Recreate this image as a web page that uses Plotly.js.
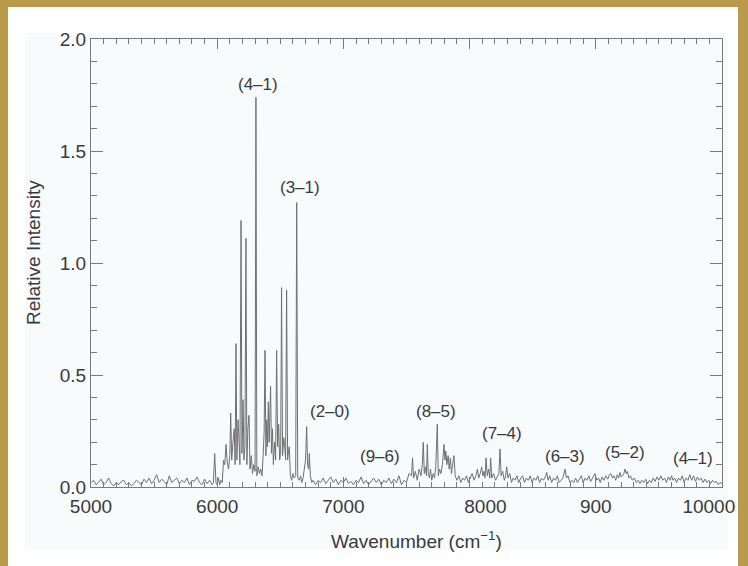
<!DOCTYPE html>
<html>
<head>
<meta charset="utf-8">
<script src="https://cdn.plot.ly/plotly-3.0.1.min.js"></script>
<style>
  html, body { margin: 0; padding: 0; }
  body { width: 748px; height: 566px; background: #b99a4b; position: relative; overflow: hidden; }
  #white { position: absolute; left: 8px; top: 7px; width: 730px; height: 559px; background: #ffffff; }
  #light { position: absolute; left: 25px; top: 33px; width: 703px; height: 517px; background: #f8fbfc; }
  #chart { position: absolute; left: 0; top: 0; width: 748px; height: 566px; }
</style>
</head>
<body>
<div id="white"></div>
<div id="light"></div>
<div id="chart"></div>
<script>
// ---- Spectrum data (wavenumber in cm^-1, relative intensity) ----
// Baseline 5000-6040 with an isolated line near 5980
var wnLeft = [5000,5020,5040,5060,5080,5100,5120,5140,5160,5180,5200,5220,5240,5260,5280,5300,5320,5340,5360,5380,5400,5420,5440,5460,5480,5500,5520,5540,5560,5580,5600,5620,5640,5660,5680,5700,5720,5740,5760,5780,5800,5820,5840,5860,5880,5900,5920,5940,5960,5970,5980,5990,6000,6010,6020,6030,6040];
var intLeft = [0.02,0.03,0.01,0.02,0.035,0.01,0.02,0.04,0.015,0.005,0.02,0.01,0.025,0.03,0.01,0.02,0.005,0.015,0.03,0.02,0.01,0.035,0.02,0.04,0.015,0.03,0.055,0.02,0.035,0.025,0.01,0.05,0.02,0.03,0.04,0.015,0.03,0.02,0.04,0.01,0.03,0.025,0.045,0.02,0.01,0.035,0.015,0.03,0.01,0.02,0.15,0.02,0.01,0.04,0.01,0.03,0.02];

// (4-1), (3-1), (2-0) bands
var wnBand1 = [6050,6060,6070,6080,6090,6100,6107,6115,6125,6135,6142,6149,6156,6165,6172,6180,6189,6196,6205,6212,6220,6228,6235,6243,6252,6260,6270,6280,6290,6300,6307,6314,6325,6335,6345,6355,6365,6372,6379,6386,6393,6399,6405,6412,6423,6430,6438,6445,6455,6463,6471,6479,6487,6495,6503,6510,6518,6527,6535,6542,6550,6558,6565,6571,6580,6590,6600,6610,6622,6630,6638,6650,6660,6670,6680,6690,6700,6709,6716,6724,6730,6738,6750,6760];
var intBand1 = [0.12,0.10,0.19,0.11,0.08,0.14,0.33,0.12,0.20,0.26,0.10,0.64,0.12,0.30,0.22,0.10,1.19,0.15,0.39,0.12,0.18,1.11,0.10,0.26,0.32,0.08,0.14,0.06,0.10,0.07,1.74,0.05,0.09,0.06,0.08,0.05,0.15,0.25,0.61,0.14,0.30,0.18,0.38,0.20,0.45,0.15,0.26,0.10,0.20,0.12,0.61,0.18,0.28,0.12,0.16,0.89,0.14,0.22,0.18,0.12,0.88,0.12,0.16,0.18,0.05,0.03,0.06,0.04,0.05,1.27,0.04,0.03,0.05,0.02,0.04,0.08,0.12,0.27,0.10,0.08,0.15,0.05,0.02,0.03];

// Baseline 6780-7500 with weak (9-6) band
var wnMid = [6780,6800,6820,6840,6860,6880,6900,6920,6940,6960,6980,7000,7020,7040,7060,7080,7100,7120,7140,7160,7180,7200,7220,7240,7260,7280,7300,7320,7340,7360,7380,7400,7420,7440,7460,7480,7500];
var intMid = [0.01,0.03,0.02,0.04,0.015,0.03,0.045,0.02,0.035,0.01,0.03,0.02,0.04,0.015,0.025,0.01,0.03,0.02,0.045,0.015,0.03,0.01,0.025,0.04,0.02,0.035,0.01,0.03,0.02,0.04,0.015,0.035,0.02,0.05,0.01,0.03,0.02];

// (8-5) and (7-4) bands
var wnBand2 = [7520,7540,7548,7556,7570,7585,7600,7615,7625,7633,7641,7650,7658,7665,7672,7682,7690,7700,7712,7722,7732,7744,7752,7762,7772,7785,7797,7805,7812,7820,7830,7838,7848,7856,7866,7876,7886,7900,7915,7930,7945,7960,7975,7990,8005,8020,8035,8050,8062,8072,8084,8096,8105,8115,8122,8130,8140,8150,8160,8167,8175,8190,8205,8220,8232,8241,8250,8262,8275,8286,8294,8304];
var intBand2 = [0.06,0.05,0.13,0.04,0.07,0.03,0.08,0.05,0.10,0.20,0.06,0.09,0.05,0.19,0.06,0.04,0.08,0.03,0.06,0.04,0.09,0.28,0.05,0.08,0.06,0.10,0.19,0.12,0.16,0.10,0.14,0.08,0.13,0.06,0.10,0.14,0.05,0.03,0.05,0.02,0.04,0.03,0.05,0.02,0.04,0.06,0.03,0.05,0.08,0.04,0.06,0.09,0.05,0.07,0.04,0.13,0.05,0.08,0.04,0.13,0.04,0.06,0.03,0.05,0.06,0.17,0.05,0.07,0.03,0.05,0.09,0.04];

// (6-3), (5-2), (4-1) overtone region
var wnRight = [8318,8332,8345,8360,8375,8390,8405,8420,8435,8450,8465,8480,8495,8510,8525,8540,8555,8570,8585,8600,8611,8622,8635,8650,8665,8680,8695,8710,8725,8740,8756,8768,8780,8795,8810,8825,8840,8855,8870,8885,8900,8915,8930,8945,8960,8975,8994,9008,9022,9035,9050,9065,9080,9095,9108,9120,9132,9145,9158,9170,9182,9192,9202,9212,9222,9231,9240,9250,9262,9275,9290,9305,9320,9335,9350,9365,9380,9395,9410,9425,9440,9455,9470,9485,9500,9515,9530,9545,9560,9575,9590,9600,9612,9625,9640,9655,9670,9685,9700,9715,9730,9745,9760,9775,9790,9805,9820,9835,9850,9865,9880,9895,9910,9925,9940,9955,9970,9985,10000];
var intRight = [0.06,0.02,0.04,0.03,0.05,0.02,0.04,0.05,0.02,0.04,0.03,0.05,0.02,0.04,0.03,0.05,0.02,0.04,0.03,0.045,0.065,0.03,0.05,0.02,0.04,0.03,0.05,0.02,0.03,0.04,0.08,0.04,0.05,0.02,0.03,0.02,0.04,0.02,0.035,0.05,0.02,0.04,0.03,0.05,0.025,0.04,0.06,0.03,0.04,0.02,0.045,0.03,0.05,0.035,0.055,0.06,0.04,0.05,0.03,0.055,0.04,0.065,0.045,0.05,0.06,0.08,0.06,0.07,0.04,0.05,0.03,0.04,0.02,0.03,0.015,0.03,0.02,0.035,0.015,0.03,0.02,0.04,0.025,0.045,0.03,0.05,0.03,0.04,0.02,0.045,0.03,0.05,0.03,0.04,0.02,0.04,0.03,0.05,0.02,0.04,0.03,0.055,0.03,0.05,0.025,0.045,0.03,0.04,0.02,0.035,0.02,0.03,0.015,0.03,0.02,0.025,0.01,0.02,0.015];

// Band labels
var bandLabels = ["(4–1)","(3–1)","(2–0)","(9–6)","(8–5)","(7–4)","(6–3)","(5–2)","(4–1)"];
var bandLabelX = [6323,6656,6894,7290,7734,8257,8756,9231,9770];
var bandLabelY = [1.795,1.339,0.335,0.134,0.335,0.241,0.138,0.156,0.129];

// Tick labels (non-breaking spaces nudge two labels as in the reference)
var xTickVals = [5000,6000,7000,8000,9000,10000];
var xTickText = ["5000","6000","7000","&nbsp;&nbsp;&nbsp;&nbsp;&nbsp;&nbsp;8000","900","10000&nbsp;&nbsp;&nbsp;&nbsp;&nbsp;"];
var yTickVals = [0,0.5,1.0,1.5,2.0];
var yTickText = ["0.0","0.5","1.0","1.5","2.0"];

var wn = wnLeft.concat(wnBand1, wnMid, wnBand2, wnRight);
var intensity = intLeft.concat(intBand1, intMid, intBand2, intRight);

var FONT = "Liberation Sans, Arial, sans-serif";
var TEXTC = "#3a3a3a";
var axisColor = "#7a7a7a";

var W = 748, H = 566, L = 91, R = 26, T = 39, B = 79;
var pw = W - L - R, ph = H - T - B;

var trace = {
  x: wn, y: intensity, type: "scatter", mode: "lines",
  line: { color: "#707070", width: 1 },
  hoverinfo: "skip"
};

var annotations = bandLabels.map(function (t, i) {
  return { x: bandLabelX[i], y: bandLabelY[i], xref: "x", yref: "y", text: t,
           xanchor: "center", yanchor: "middle",
           showarrow: false, font: { family: FONT, size: 17, color: TEXTC } };
});
annotations.push({ xref: "paper", yref: "paper", x: (416 - L) / pw, y: (H - B - 540) / ph,
  xanchor: "center", yanchor: "middle", text: "Wavenumber (cm<sup>−1</sup>)",
  showarrow: false, font: { family: FONT, size: 19, color: TEXTC } });
annotations.push({ xref: "paper", yref: "paper", x: (33 - L) / pw, y: (H - B - 253) / ph,
  xanchor: "center", yanchor: "middle", text: "Relative Intensity", textangle: -90,
  showarrow: false, font: { family: FONT, size: 19, color: TEXTC } });

var layout = {
  width: W, height: H,
  margin: { l: L, r: R, t: T, b: B, pad: 0 },
  paper_bgcolor: "rgba(0,0,0,0)",
  plot_bgcolor: "rgba(0,0,0,0)",
  showlegend: false,
  xaxis: {
    range: [5000, 10000], tickmode: "array", tickvals: xTickVals, ticktext: xTickText,
    ticks: "inside", ticklen: 10, tickwidth: 1, tickcolor: axisColor,
    showline: true, linecolor: axisColor, linewidth: 1, mirror: "allticks",
    showgrid: false, zeroline: false, ticklabeloverflow: "allow",
    ticklabelstandoff: 2,
    tickfont: { family: FONT, size: 19, color: TEXTC },
    minor: { tickmode: "linear", tick0: 5000, dtick: 100, ticks: "inside", ticklen: 5, tickcolor: axisColor, showgrid: false }
  },
  yaxis: {
    range: [0, 2.0], tickmode: "array", tickvals: yTickVals, ticktext: yTickText,
    ticks: "inside", ticklen: 12, tickwidth: 1, tickcolor: axisColor,
    showline: true, linecolor: axisColor, linewidth: 1, mirror: "allticks",
    showgrid: false, zeroline: false, ticklabeloverflow: "allow",
    tickfont: { family: FONT, size: 19, color: TEXTC },
    minor: { tickmode: "linear", tick0: 0, dtick: 0.1, ticks: "inside", ticklen: 6, tickcolor: axisColor, showgrid: false }
  },
  annotations: annotations
};

Plotly.newPlot("chart", [trace], layout, { displayModeBar: false, staticPlot: true });
</script>
</body>
</html>
